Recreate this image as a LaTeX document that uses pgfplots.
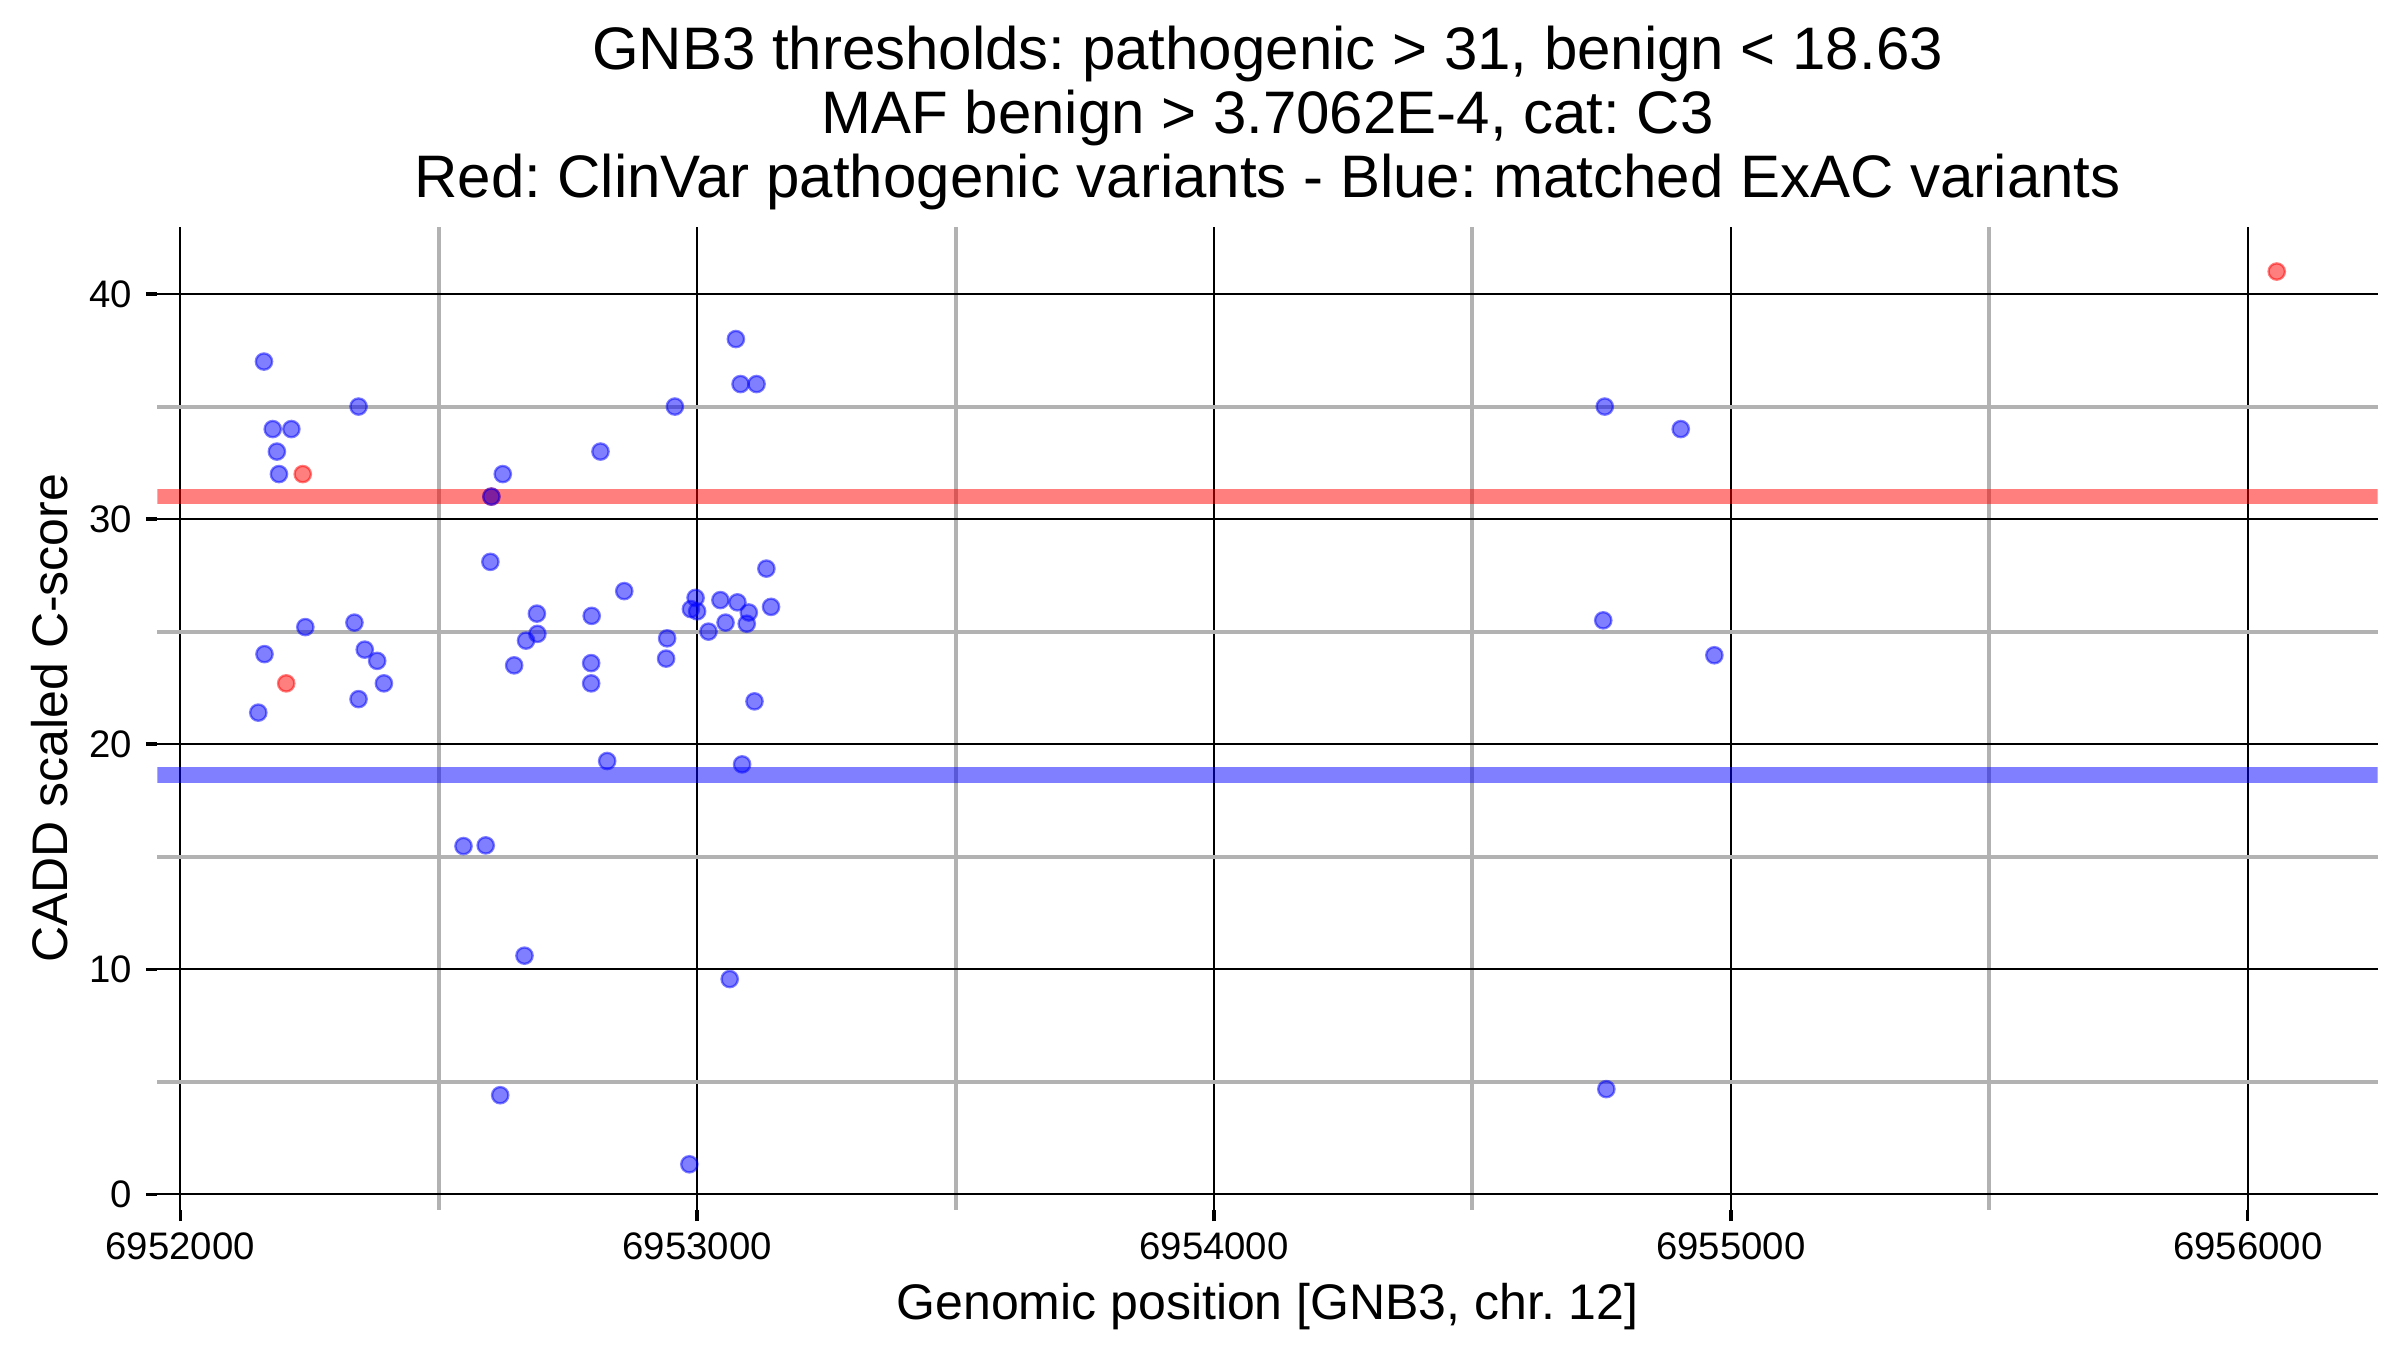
\documentclass[border=0pt]{standalone}
\usepackage{pgfplots}
\usepackage{pgfplotstable}
\usepackage{fontspec}
\setmainfont{Liberation Sans}
\pgfplotsset{compat=1.18}
\frenchspacing

% positions are given as offset from 6952000 (chr. 12) to keep TeX precision
% blue: matched ExAC variants
\pgfplotstableread{
dpos cadd
162 37.0
345 35.0
179 34.0
215 34.0
187 33.0
191 32.0
624 32.0
602 31.0
813 33.0
957 35.0
1075 38.0
1084 36.0
1115 36.0
600 28.1
1134 27.8
859 26.8
997 26.5
1045 26.4
1078 26.3
988 26.0
1000 25.9
1100 25.85
1143 26.1
690 25.8
796 25.7
1055 25.4
1096 25.35
1022 25.0
337 25.4
242 25.2
691 24.9
669 24.6
942 24.7
940 23.8
163 24.0
357 24.2
381 23.7
646 23.5
795 23.6
394 22.7
795 22.7
345 22.0
1111 21.9
151 21.4
826 19.25
1087 19.1
548 15.47
591 15.5
666 10.6
1063 9.56
619 4.4
985 1.33
2756 35.0
2903 34.0
2753 25.5
2968 23.95
2759 4.67
}\exac

% red: ClinVar pathogenic variants
\pgfplotstableread{
dpos cadd
237 32.0
205 22.7
602 31.0
4056 41.0
}\clinvar

\begin{document}
\begin{tikzpicture}
\useasboundingbox (-47.25pt,-42.15pt) rectangle (672.75pt,362.85pt);
\begin{axis}[
    scale only axis,
    width=666pt, height=294.75pt,
    xmin=-44, xmax=4251,
    ymin=-0.68, ymax=42.98,
    xtick={0,1000,2000,3000,4000},
    xticklabels={6952000,6953000,6954000,6955000,6956000},
    minor xtick={500,1500,2500,3500},
    ytick={0,10,20,30,40},
    minor ytick={5,15,25,35},
    grid=both,
    major grid style={black, line width=0.5pt},
    minor grid style={black!30, line width=1.2pt},
    axis line style={draw=none},
    tick pos=left,
    tick align=outside,
    major tick length=3.5pt,
    minor tick length=0pt,
    tick style={black, line width=1pt},
    /pgf/number format/assume math mode=true,
    ticklabel style={font=\fontsize{11.5}{13}\selectfont},
    xticklabel style={anchor=base, yshift=-11.5pt},
    yticklabel style={inner sep=0pt, xshift=-4pt},
    xlabel={Genomic position [GNB3, chr. 12]},
    ylabel={CADD scaled C-score},
    label style={font=\fontsize{15}{17}\selectfont},
    xlabel style={at={(axis description cs:0.5,0)}, anchor=base, yshift=-33pt},
    ylabel style={at={(axis description cs:-0.0405,0.5)}, anchor=base},
    title={GNB3 thresholds: pathogenic > 31, benign < 18.63\\MAF benign > 3.7062E-4, cat: C3\\Red: ClinVar pathogenic variants - Blue: matched ExAC variants},
    title style={align=center, anchor=south, at={(axis description cs:0.5,1)}, inner sep=0pt, yshift=-1pt,
        font=\fontsize{18}{19.2}\selectfont},
]
\addplot[no marks, red, opacity=0.5, line width=4.6pt] coordinates {(-44,31) (4251,31)};
\addplot[no marks, blue, opacity=0.5, line width=4.6pt] coordinates {(-44,18.63) (4251,18.63)};
\addplot[only marks, mark=*, mark size=2.45pt, mark options={draw=red, fill=red, draw opacity=0.5, fill opacity=0.5, line width=0.7pt}]
    table[x=dpos, y=cadd] {\clinvar};
\addplot[only marks, mark=*, mark size=2.45pt, mark options={draw=blue, fill=blue, draw opacity=0.5, fill opacity=0.5, line width=0.7pt}]
    table[x=dpos, y=cadd] {\exac};
\end{axis}
\end{tikzpicture}
\end{document}
